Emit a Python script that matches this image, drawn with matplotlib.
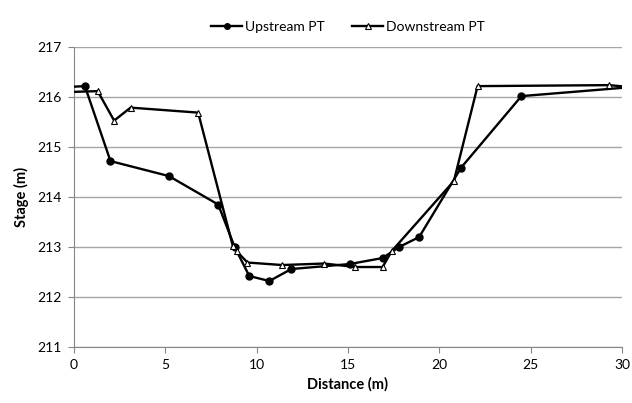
import matplotlib
matplotlib.use("Agg")
import matplotlib.pyplot as plt

# Upstream pressure transducer cross-section
up_x = [-0.5, 0.6, 2.0, 5.2, 7.9, 8.8, 9.6, 10.7, 11.9, 15.1, 16.9, 17.8, 18.9, 21.2, 24.5, 30.5]
up_y = [216.2, 216.22, 214.72, 214.42, 213.85, 213.0, 212.42, 212.32, 212.56, 212.66, 212.78, 213.0, 213.2, 214.59, 216.02, 216.2]

# Downstream pressure transducer cross-section
down_x = [-0.5, 1.3, 2.2, 3.1, 6.8, 8.7, 8.9, 9.5, 11.4, 13.7, 15.4, 16.9, 17.4, 20.8, 22.1, 29.3, 30.5]
down_y = [216.1, 216.12, 215.53, 215.79, 215.69, 213.02, 212.92, 212.69, 212.64, 212.67, 212.6, 212.6, 212.92, 214.32, 216.22, 216.24, 216.2]

plt.rcParams["font.family"] = ["Lato", "DejaVu Sans"]

fig = plt.figure(figsize=(6.32, 4.03), dpi=100)
ax = fig.add_axes([0.117, 0.139, 0.867, 0.744])

ax.plot(up_x, up_y, color="black", lw=1.7, marker="o", ms=5,
        label="Upstream PT", zorder=3)
ax.plot(down_x, down_y, color="black", lw=1.7, marker="^", ms=5,
        markerfacecolor="white", markeredgecolor="black", markeredgewidth=0.8,
        label="Downstream PT", zorder=3)

ax.set_xlim(0, 30)
ax.set_ylim(211, 217)
ax.set_xticks([0, 5, 10, 15, 20, 25, 30])
ax.set_yticks(range(211, 218))
ax.yaxis.grid(True, color="#a6a6a6", lw=1)
ax.set_axisbelow(True)

for s in ["top", "right"]:
    ax.spines[s].set_visible(False)
for s in ["left", "bottom"]:
    ax.spines[s].set_color("#868686")
ax.tick_params(axis="both", direction="out", length=4, color="#868686",
               labelsize=10, pad=5)

ax.set_xlabel("Distance (m)", fontsize=10.5, fontweight="bold", labelpad=4)
ax.set_ylabel("Stage (m)", fontsize=10.5, fontweight="bold", labelpad=6)

ax.legend(loc="lower center", bbox_to_anchor=(0.5, 1.03), ncol=2, frameon=False,
          fontsize=10, handlelength=2.2, handletextpad=0.2, columnspacing=2.0,
          borderaxespad=0, markerscale=0.8)

fig.savefig("out.png", dpi=100)
